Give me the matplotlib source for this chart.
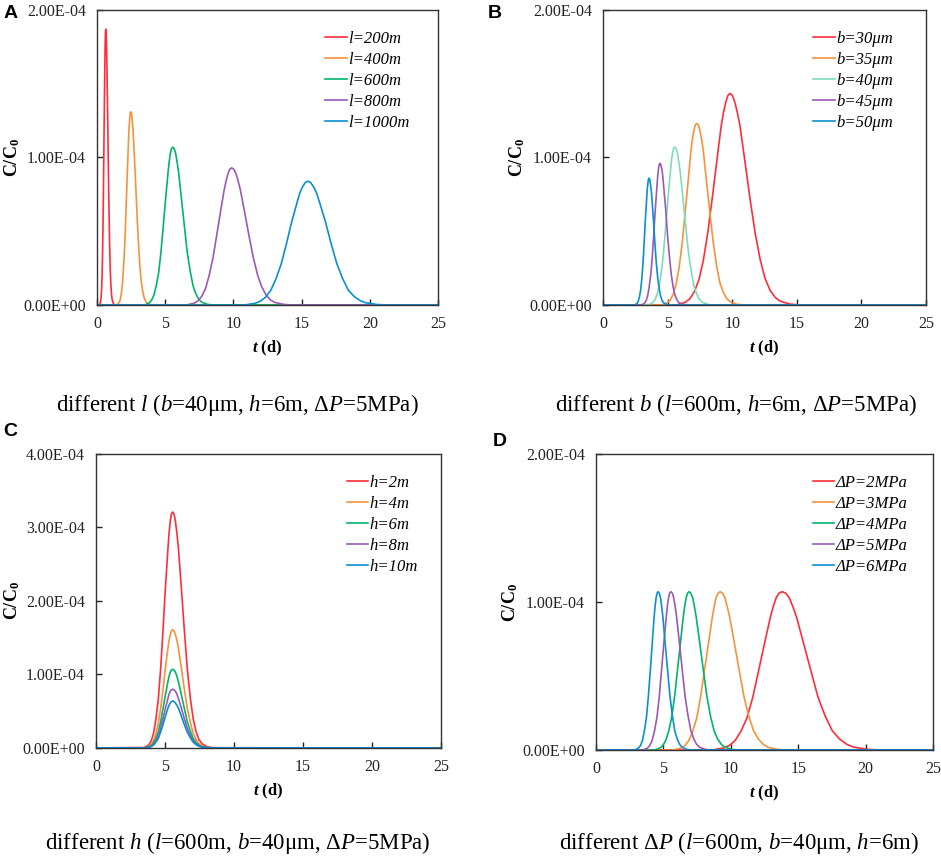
import matplotlib.pyplot as plt
from matplotlib.ticker import FuncFormatter

# fonts: Times-like serif for everything except the panel letters
plt.rcParams['font.family'] = 'Liberation Serif'
plt.rcParams['mathtext.fontset'] = 'custom'
plt.rcParams['mathtext.rm'] = 'Liberation Serif'
plt.rcParams['mathtext.it'] = 'Liberation Serif:italic'
plt.rcParams['mathtext.bf'] = 'Liberation Serif:bold'
plt.rcParams['mathtext.bfit'] = 'Liberation Serif:bold:italic'

#### breakthrough curves, C/C0 in units of 1E-04, t in days

# shared case: l=600m, b=40um, h=6m, dP=5MPa
t_base = [0, 3.48, 3.83, 4.00, 4.17, 4.34, 4.52, 4.69, 4.86, 5.03, 5.21, 5.29, 5.38, 5.46, 5.55,
          5.66, 5.76, 5.87, 5.98, 6.19, 6.40, 6.61, 6.83, 7.04, 7.25, 7.46, 7.68, 8.10, 8.53, 25]
c_base = [0, 0.00, 0.014, 0.032, 0.067, 0.13, 0.22, 0.36, 0.54, 0.72, 0.90, 0.97, 1.03, 1.06, 1.07,
          1.06, 1.03, 0.97, 0.90, 0.72, 0.54, 0.36, 0.23, 0.13, 0.075, 0.039, 0.019, 0.004, 0.00, 0]

## A - different l
t_l200 = [0, 0.190, 0.265, 0.303, 0.340, 0.378, 0.415, 0.453, 0.490, 0.528, 0.565, 0.584, 0.603, 0.621, 0.640,
          0.664, 0.688, 0.711, 0.735, 0.783, 0.830, 0.878, 0.925, 0.973, 1.020, 1.068, 1.115, 1.210, 1.305, 25]
c_l200 = [0, 0.00, 0.024, 0.056, 0.117, 0.22, 0.39, 0.63, 0.94, 1.27, 1.57, 1.70, 1.79, 1.85, 1.87,
          1.85, 1.79, 1.70, 1.57, 1.27, 0.94, 0.64, 0.40, 0.23, 0.131, 0.067, 0.034, 0.007, 0.00, 0]
t_l400 = [0, 1.45, 1.62, 1.71, 1.79, 1.88, 1.96, 2.05, 2.13, 2.22, 2.30, 2.34, 2.39, 2.43, 2.47,
          2.53, 2.58, 2.64, 2.69, 2.80, 2.91, 3.02, 3.13, 3.24, 3.35, 3.46, 3.57, 3.79, 4.01, 25]
c_l400 = [0, 0.00, 0.017, 0.039, 0.082, 0.16, 0.28, 0.44, 0.66, 0.89, 1.10, 1.19, 1.25, 1.30, 1.31,
          1.30, 1.25, 1.19, 1.10, 0.89, 0.66, 0.45, 0.28, 0.16, 0.092, 0.047, 0.024, 0.005, 0.00, 0]
t_l800 = [0, 6.57, 7.12, 7.40, 7.67, 7.95, 8.22, 8.50, 8.77, 9.05, 9.32, 9.46, 9.60, 9.73, 9.87,
          10.03, 10.19, 10.35, 10.51, 10.82, 11.14, 11.46, 11.78, 12.09, 12.41, 12.73, 13.05, 13.68, 14.32, 25]
c_l800 = [0, 0.00, 0.012, 0.028, 0.058, 0.11, 0.20, 0.32, 0.47, 0.63, 0.78, 0.84, 0.89, 0.92, 0.93,
          0.92, 0.89, 0.84, 0.78, 0.63, 0.47, 0.32, 0.20, 0.12, 0.065, 0.033, 0.017, 0.004, 0.00, 0]
t_l1000 = [0, 10.80, 11.58, 11.96, 12.35, 12.74, 13.13, 13.51, 13.90, 14.29, 14.68, 14.87, 15.06, 15.26, 15.45,
           15.66, 15.88, 16.09, 16.30, 16.73, 17.15, 17.58, 18.00, 18.43, 18.85, 19.28, 19.70, 20.55, 21.40, 25]
c_l1000 = [0, 0.00, 0.011, 0.025, 0.052, 0.10, 0.18, 0.28, 0.42, 0.57, 0.70, 0.76, 0.80, 0.83, 0.84,
           0.83, 0.80, 0.76, 0.70, 0.57, 0.42, 0.28, 0.18, 0.10, 0.058, 0.030, 0.015, 0.003, 0.00, 0]

## B - different b
t_b30 = [0, 5.69, 6.38, 6.73, 7.07, 7.42, 7.76, 8.11, 8.45, 8.80, 9.14, 9.31, 9.49, 9.66, 9.83,
         10.02, 10.22, 10.41, 10.61, 10.99, 11.38, 11.77, 12.16, 12.54, 12.93, 13.32, 13.71, 14.48, 15.26, 25]
c_b30 = [0, 0.00, 0.019, 0.043, 0.090, 0.17, 0.30, 0.49, 0.72, 0.97, 1.21, 1.30, 1.37, 1.42, 1.435,
         1.42, 1.37, 1.30, 1.21, 0.97, 0.72, 0.49, 0.31, 0.18, 0.100, 0.052, 0.026, 0.006, 0.00, 0]
t_b35 = [0, 4.55, 5.00, 5.23, 5.45, 5.68, 5.90, 6.13, 6.35, 6.58, 6.80, 6.91, 7.03, 7.14, 7.25,
         7.38, 7.51, 7.64, 7.77, 8.02, 8.28, 8.54, 8.80, 9.05, 9.31, 9.57, 9.83, 10.34, 10.86, 25]
c_b35 = [0, 0.00, 0.016, 0.037, 0.077, 0.15, 0.26, 0.42, 0.62, 0.83, 1.04, 1.12, 1.18, 1.22, 1.23,
         1.22, 1.18, 1.12, 1.04, 0.83, 0.62, 0.42, 0.26, 0.15, 0.086, 0.044, 0.022, 0.005, 0.00, 0]
t_b45 = [0, 2.97, 3.21, 3.33, 3.45, 3.57, 3.69, 3.81, 3.93, 4.05, 4.17, 4.23, 4.29, 4.35, 4.41,
         4.48, 4.56, 4.63, 4.70, 4.85, 4.99, 5.14, 5.28, 5.43, 5.57, 5.72, 5.86, 6.15, 6.44, 25]
c_b45 = [0, 0.00, 0.012, 0.029, 0.060, 0.12, 0.20, 0.32, 0.48, 0.65, 0.80, 0.87, 0.92, 0.95, 0.96,
         0.95, 0.92, 0.87, 0.80, 0.65, 0.48, 0.33, 0.21, 0.12, 0.067, 0.034, 0.017, 0.004, 0.00, 0]
t_b50 = [0, 2.45, 2.64, 2.73, 2.82, 2.91, 3.01, 3.10, 3.19, 3.28, 3.38, 3.42, 3.47, 3.51, 3.56,
         3.62, 3.67, 3.73, 3.79, 3.90, 4.01, 4.12, 4.24, 4.35, 4.46, 4.57, 4.69, 4.91, 5.14, 25]
c_b50 = [0, 0.00, 0.011, 0.026, 0.054, 0.10, 0.18, 0.29, 0.43, 0.58, 0.72, 0.78, 0.82, 0.85, 0.86,
         0.85, 0.82, 0.78, 0.72, 0.58, 0.43, 0.29, 0.18, 0.11, 0.060, 0.031, 0.015, 0.003, 0.00, 0]

## C - different h (all on t_base)
c_h2 = [0, 0.006, 0.042, 0.096, 0.20, 0.39, 0.67, 1.09, 1.61, 2.17, 2.70, 2.91, 3.08, 3.18, 3.21,
        3.18, 3.08, 2.91, 2.70, 2.17, 1.61, 1.09, 0.69, 0.40, 0.225, 0.116, 0.058, 0.013, 0.003, 0]
c_h4 = [0, 0.003, 0.021, 0.048, 0.10, 0.19, 0.34, 0.54, 0.80, 1.09, 1.35, 1.46, 1.54, 1.59, 1.61,
        1.59, 1.54, 1.46, 1.35, 1.09, 0.80, 0.55, 0.35, 0.20, 0.112, 0.058, 0.029, 0.006, 0.00, 0]
c_h8 = [0, 0.00, 0.010, 0.024, 0.050, 0.10, 0.17, 0.27, 0.40, 0.54, 0.67, 0.73, 0.77, 0.79, 0.80,
        0.79, 0.77, 0.73, 0.67, 0.54, 0.40, 0.27, 0.17, 0.10, 0.056, 0.029, 0.014, 0.003, 0.00, 0]
c_h10 = [0, 0.00, 0.008, 0.019, 0.040, 0.08, 0.13, 0.22, 0.32, 0.43, 0.54, 0.58, 0.61, 0.63, 0.64,
         0.63, 0.61, 0.58, 0.54, 0.43, 0.32, 0.22, 0.14, 0.08, 0.045, 0.023, 0.012, 0.003, 0.00, 0]

## D - different dP (all peaks at the height of c_base)
t_p2 = [0, 8.61, 9.48, 9.91, 10.34, 10.77, 11.21, 11.64, 12.07, 12.50, 12.94, 13.15, 13.37, 13.58, 13.80,
        14.07, 14.33, 14.60, 14.87, 15.40, 15.93, 16.46, 17.00, 17.53, 18.06, 18.59, 19.13, 20.19, 21.26, 25]
t_p3 = [0, 5.75, 6.33, 6.61, 6.90, 7.19, 7.48, 7.76, 8.05, 8.34, 8.63, 8.77, 8.91, 9.06, 9.20,
        9.38, 9.56, 9.73, 9.91, 10.27, 10.62, 10.98, 11.33, 11.69, 12.04, 12.40, 12.75, 13.46, 14.17, 25]
t_p4 = [0, 4.32, 4.75, 4.97, 5.18, 5.40, 5.61, 5.83, 6.04, 6.26, 6.47, 6.58, 6.69, 6.79, 6.90,
        7.03, 7.17, 7.30, 7.43, 7.70, 7.96, 8.23, 8.49, 8.76, 9.02, 9.29, 9.55, 10.08, 10.61, 25]
t_p6 = [0, 2.88, 3.16, 3.31, 3.45, 3.59, 3.74, 3.88, 4.03, 4.17, 4.31, 4.38, 4.46, 4.53, 4.60,
        4.69, 4.78, 4.87, 4.96, 5.13, 5.31, 5.49, 5.67, 5.84, 6.02, 6.20, 6.38, 6.73, 7.09, 25]

# legend labels
labels_a = ['l=200m', 'l=400m', 'l=600m', 'l=800m', 'l=1000m']
labels_b = ['b=30μm', 'b=35μm', 'b=40μm', 'b=45μm', 'b=50μm']
labels_c = ['h=2m', 'h=4m', 'h=6m', 'h=8m', 'h=10m']
labels_d = ['ΔP=2MPa', 'ΔP=3MPa', 'ΔP=4MPa', 'ΔP=5MPa', 'ΔP=6MPa']

captions = [
    r'different $\mathit{l}$ ($\mathit{b}$=40μm, $\mathit{h}$=6m, Δ$\mathit{P}$=5MPa)',
    r'different $\mathit{b}$ ($\mathit{l}$=600m, $\mathit{h}$=6m, Δ$\mathit{P}$=5MPa)',
    r'different $\mathit{h}$ ($\mathit{l}$=600m, $\mathit{b}$=40μm, Δ$\mathit{P}$=5MPa)',
    r'different Δ$\mathit{P}$ ($\mathit{l}$=600m, $\mathit{b}$=40μm, $\mathit{h}$=6m)',
]

# colours
red, orange, green, purple, blue = '#FF2D3A', '#F7923A', '#00B56A', '#9B59B6', '#0A8FD2'
teal = '#7EDDB9'

fig = plt.figure(figsize=(9.41, 8.63), dpi=100)

# axes boxes in figure fractions
ax_a = fig.add_axes([0.1031, 0.6466, 0.3624, 0.3418])
ax_b = fig.add_axes([0.6408, 0.6466, 0.3433, 0.3418])
ax_c = fig.add_axes([0.1020, 0.1333, 0.3666, 0.3407])
ax_d = fig.add_axes([0.6334, 0.1309, 0.3581, 0.3430])

panels = [
    (ax_a, [(t_l200, c_l200), (t_l400, c_l400), (t_base, c_base), (t_l800, c_l800), (t_l1000, c_l1000)],
     labels_a, [red, orange, green, purple, blue], 2e-4, 0.669),
    (ax_b, [(t_b30, c_b30), (t_b35, c_b35), (t_base, c_base), (t_b45, c_b45), (t_b50, c_b50)],
     labels_b, [red, orange, teal, purple, blue], 2e-4, 0.650),
    (ax_c, [(t_base, c_h2), (t_base, c_h4), (t_base, c_base), (t_base, c_h8), (t_base, c_h10)],
     labels_c, [red, orange, green, purple, blue], 4e-4, 0.727),
    (ax_d, [(t_p2, c_base), (t_p3, c_base), (t_p4, c_base), (t_base, c_base), (t_p6, c_base)],
     labels_d, [red, orange, green, purple, blue], 2e-4, 0.643),
]

for ax, curves, labels, colors, ymax, legx in panels:
    for (t, c), lab, col in zip(curves, labels, colors):
        ax.plot(t, [v * 1e-4 for v in c], color=col, lw=1.2, label=lab)
    ax.set_xlim(0, 25)
    ax.set_ylim(0, ymax)
    ax.set_xticks([0, 5, 10, 15, 20, 25])
    ax.set_yticks([i * 1e-4 for i in range(int(round(ymax * 1e4)) + 1)])
    ax.yaxis.set_major_formatter(FuncFormatter(lambda v, p: '%.2E' % v))
    ax.tick_params(direction='in', length=4, width=1, labelsize=11.5, pad=8, colors='#222222')
    for s in ax.spines.values():
        s.set_color('#333333')
        s.set_linewidth(1.0)
    ax.set_xlabel(r'$\mathbfit{t}$ (d)', fontsize=12, fontweight='bold', labelpad=5)
    ax.set_ylabel(r'$\mathbf{C/C_0}$', fontsize=13)
    ax.legend(loc='upper left', bbox_to_anchor=(legx, 0.93), frameon=False,
              prop={'style': 'italic', 'size': 12}, handlelength=1.3,
              handletextpad=0.08, labelspacing=0.3, borderpad=0, borderaxespad=0)

# y label positions (right edge of the rotated label, axes coords)
ax_a.yaxis.set_label_coords(-0.22, 0.5)
ax_b.yaxis.set_label_coords(-0.235, 0.5)
ax_c.yaxis.set_label_coords(-0.215, 0.5)
ax_d.yaxis.set_label_coords(-0.225, 0.5)

# panel letters
for letter, x, y in [('A', 4, 14), ('B', 488, 14), ('C', 3, 431), ('D', 493, 441)]:
    fig.text(x / 941, 1 - y / 863, letter, fontsize=14, fontweight='bold', family='Liberation Sans',
             va='center', ha='left')

# captions under each panel
for cap, x, y in zip(captions, [237, 736, 238, 739], [405, 405, 843, 843]):
    fig.text(x / 941, 1 - y / 863, cap, fontsize=16.5, ha='center', va='center')

fig.savefig('out.png', dpi=100)
